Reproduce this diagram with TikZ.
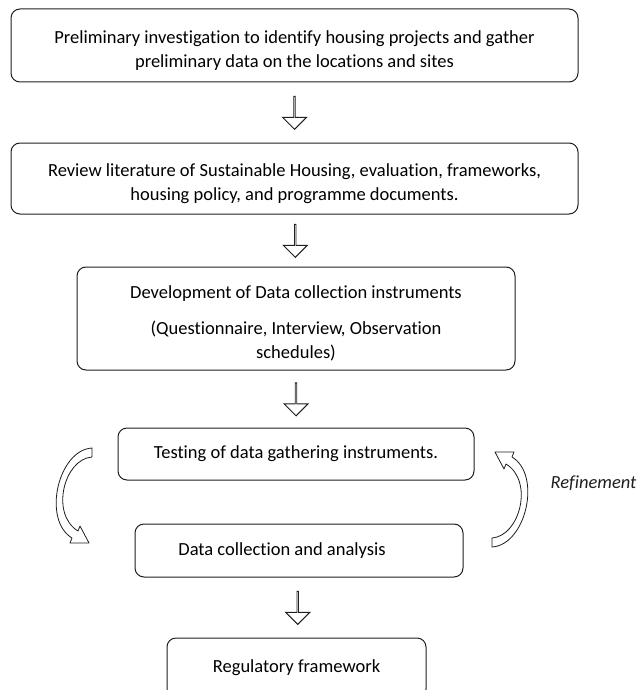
\documentclass[tikz,border=0pt]{standalone}
\usepackage{fontspec}
\setmainfont{Carlito}[Ligatures=NoCommon]
\usepackage{tikz}
\usetikzlibrary{positioning, shapes.arrows, calc}
\definecolor{inkgray}{RGB}{30, 30, 30}
% extra room above the first line of a multi-line box
\newcommand{\boxstrut}{\rule{0pt}{23pt}}

\begin{document}
\begin{tikzpicture}[
    x=1pt, y=-1pt,
    stage/.style={rectangle, draw=inkgray, line width=1pt, rounded corners=9pt,
                  inner sep=0pt, align=center, font=\fontsize{18.5}{24}\selectfont},
    downarr/.style={single arrow, draw=inkgray, line width=0.9pt, fill=white,
                    shape border rotate=270, minimum height=33pt, minimum width=24pt,
                    single arrow head extend=7pt, inner sep=0pt, inner ysep=5pt},
    note/.style={font=\fontsize{18.5}{22}\selectfont\itshape, text=inkgray},
    bentarrow/.pic={
        % hollow curved arrow, tail at top, head at bottom
        \draw[draw=inkgray, line width=0.8pt, fill=white, line join=round]
            (18,-49) .. controls (-16,-47) and (-32,23) .. (-2,41)
            -- (-4,46) -- (15,46) -- (6,29) -- (4,34)
            .. controls (-24,17) and (-10,-38) .. (18,-40) -- cycle;
    }
]
    \useasboundingbox (0,0) rectangle (640,690);

    \node[stage, minimum width=567pt, minimum height=73pt] (prelim) at (294.5,45.5)
        {\boxstrut Preliminary investigation to identify housing projects and gather\\
         preliminary data on the locations and sites};
    \node[stage, minimum width=567pt, minimum height=71pt, below=60pt of prelim] (review)
        {\boxstrut Review literature of Sustainable Housing, evaluation, frameworks,\\
         housing policy, and programme documents.};
    \node[stage, minimum width=438pt, minimum height=103pt, below=52pt of review, xshift=1.5pt] (develop)
        {\boxstrut Development of Data collection instruments\\[12pt]
         (Questionnaire, Interview, Observation\\ schedules)};
    \node[stage, minimum width=356pt, minimum height=52pt, below=57pt of develop] (testing)
        {Testing of data gathering instruments.};
    \node[stage, minimum width=328pt, minimum height=53pt, below=43pt of testing, xshift=3pt] (collect)
        {Data collection and analysis\kern34pt};
    \node[stage, minimum width=259pt, minimum height=60pt, below=60pt of collect, xshift=-2.5pt] (regul)
        {Regulatory framework};

    \node[downarr] at ($(prelim.south)!0.5!(review.north)$) {};
    \node[downarr] at ($(review.south)!0.5!(develop.north)$) {};
    \node[downarr] at ($(develop.south)!0.5!(testing.north)$) {};
    \node[downarr] at ($(collect.south)!0.5!(regul.north)$) {};

    % refinement loop between testing and collection
    \pic at (74,497) {bentarrow};
    \pic[rotate=180] at (510,498) {bentarrow};
    \node[note] (refine) at (593.5,483) {Refinement};
\end{tikzpicture}
\end{document}
